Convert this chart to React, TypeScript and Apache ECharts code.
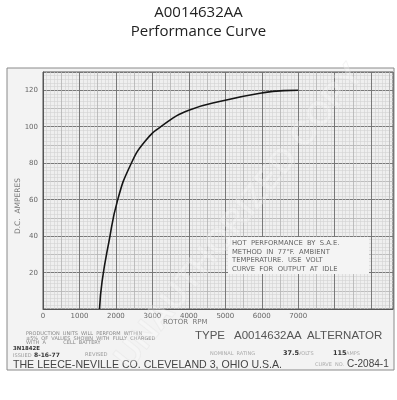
import React, { useEffect, useRef } from "react";
import * as echarts from "echarts";

const rpm = [1550, 1620, 1800, 2050, 2400, 2800, 3300, 4000, 5000, 6000, 6600, 7000];
const amps = [0, 15, 36, 60, 79, 92, 101, 109, 114.5, 118.5, 119.8, 120];
const xTickLabels = ["0", "1000", "2000", "3000", "4000", "5000", "6000", "7000"];
const yTickLabels = ["20", "40", "60", "80", "100", "120"];
const noteLines = [
  "HOT  PERFORMANCE  BY  S.A.E.",
  "METHOD  IN  77°F.  AMBIENT",
  "TEMPERATURE.  USE  VOLT",
  "CURVE  FOR  OUTPUT  AT  IDLE",
];

const FONT = "DejaVu Sans";

export default function App() {
  const ref = useRef<HTMLDivElement>(null);
  useEffect(() => {
    document.body.style.margin = "0";
    const chart = echarts.init(ref.current!, null, { renderer: "svg" });
    const hiddenX = (interval: number, color: string) => ({
      type: "value", min: 0, max: 9600, interval, position: "bottom",
      axisLine: { show: false }, axisTick: { show: false }, axisLabel: { show: false },
      splitLine: { show: true, lineStyle: { color, width: 0.6 } },
    });
    const hiddenY = (interval: number, color: string) => ({
      type: "value", min: 0, max: 130, interval, position: "left",
      axisLine: { show: false }, axisTick: { show: false }, axisLabel: { show: false },
      splitLine: { show: true, lineStyle: { color, width: 0.6 } },
    });
    const t = (text: string, x: number, y: number, size: number, fill: string, extra: any = {}) => ({
      type: "text", x, y, silent: true, z: 5,
      style: { text, fontSize: size, fill, fontFamily: FONT, textVerticalAlign: "middle", ...extra },
    });
    const elements: any[] = [
      { type: "rect", shape: { x: 7, y: 68, width: 387, height: 302 }, z: -10, silent: true,
        style: { fill: "#f3f3f3", stroke: "#8a8a8a", lineWidth: 1 } },
      { type: "text", x: 198.5, y: 11, silent: true,
        style: { text: "A0014632AA", fontSize: 15, fill: "#222", fontFamily: "Open Sans", textAlign: "center", textVerticalAlign: "middle" } },
      { type: "text", x: 198.5, y: 30, silent: true,
        style: { text: "Performance Curve", fontSize: 15, fill: "#222", fontFamily: "Open Sans", textAlign: "center", textVerticalAlign: "middle" } },
      { type: "text", x: 17, y: 206, rotation: Math.PI / 2, silent: true, z: 5,
        style: { text: "D.C.  AMPERES", fontSize: 7.5, fill: "#777", fontFamily: FONT, textAlign: "center", textVerticalAlign: "middle" } },
      t("ROTOR  RPM", 163, 322, 7, "#777"),
      { type: "rect", shape: { x: 228, y: 237, width: 141, height: 37 }, z: 4, silent: true,
        style: { fill: "#f4f4f4" } },
      ...noteLines.map((l, i) => t(l, 232, 243 + i * 8.6, 6.8, "#666")),
      t("PRODUCTION  UNITS  WILL  PERFORM  WITHIN", 26, 332.5, 5, "#888"),
      t("±5%  OF  VALUES  SHOWN  WITH  FULLY  CHARGED", 26, 337.5, 5, "#888"),
      t("WITH  A           CELL  BATTERY", 26, 342.3, 5, "#888"),
      t("3N1842E", 13, 348.3, 5.4, "#333", { fontWeight: "bold" }),
      t("ISSUED", 13, 354.5, 5, "#999"),
      t("8-16-77", 34, 354.5, 6, "#333", { fontWeight: "bold" }),
      t("REVISED", 85, 354, 5.2, "#999"),
      t("TYPE   A0014632AA  ALTERNATOR", 195, 335, 11.5, "#555", { fontFamily: "Liberation Sans" }),
      t("NOMINAL  RATING", 210, 353, 5, "#aaa"),
      t("37.5", 283, 353, 6.5, "#333", { fontWeight: "bold" }),
      t("VOLTS", 298, 353, 5, "#aaa"),
      t("115", 333, 353, 6.5, "#333", { fontWeight: "bold" }),
      t("AMPS", 346, 353, 5, "#aaa"),
      t("THE LEECE-NEVILLE CO. CLEVELAND 3, OHIO U.S.A.", 13, 363.5, 10.6, "#444", { fontFamily: "Liberation Sans" }),
      t("CURVE  NO.", 315, 364, 5, "#aaa"),
      t("C-2084-1", 347, 363.5, 10, "#444", { fontFamily: "Liberation Sans" }),
      { type: "text", x: 238, y: 215, rotation: 0.9, silent: true, z: 20,
        style: { text: "UNAUTHORIZED COPY", fontSize: 34, fontWeight: "bold", fontFamily: "Liberation Sans",
          fill: "rgba(255,255,255,0.25)", stroke: "rgba(215,215,215,0.3)", lineWidth: 1,
          textAlign: "center", textVerticalAlign: "middle" } },
    ];
    chart.setOption({
      animation: false,
      grid: { left: 43, right: 4, top: 72, bottom: 91, show: true, borderColor: "#555", borderWidth: 1, backgroundColor: "#efefef" },
      xAxis: [
        hiddenX(100, "#d2d2d2"),
        hiddenX(500, "#a8a8a8"),
        {
          type: "value", min: 0, max: 9600, interval: 1000, position: "bottom",
          axisLine: { show: true, lineStyle: { color: "#555", width: 1 } },
          axisTick: { show: false },
          axisLabel: {
            show: true, margin: 3, fontSize: 7, color: "#666", fontFamily: FONT, showMaxLabel: false,
            formatter: (v: number) => (xTickLabels.includes(String(v)) ? String(v) : ""),
          },
          splitLine: { show: true, lineStyle: { color: "#707070", width: 0.9 } },
        },
      ],
      yAxis: [
        hiddenY(2, "#d2d2d2"),
        hiddenY(10, "#a8a8a8"),
        {
          type: "value", min: 0, max: 130, interval: 20, position: "left",
          axisLine: { show: true, lineStyle: { color: "#555", width: 1 } },
          axisTick: { show: false },
          axisLabel: {
            show: true, margin: 5, fontSize: 7, color: "#666", fontFamily: FONT, showMaxLabel: false,
            formatter: (v: number) => (yTickLabels.includes(String(v)) ? String(v) : ""),
          },
          splitLine: { show: true, lineStyle: { color: "#707070", width: 0.9 } },
        },
      ],
      series: [
        {
          type: "line", xAxisIndex: 2, yAxisIndex: 2, smooth: 0.5, showSymbol: false,
          data: rpm.map((r, i) => [r, amps[i]]),
          lineStyle: { color: "#151515", width: 1.6 },
        },
      ],
      graphic: { elements },
    });
    return () => chart.dispose();
  }, []);
  return <div ref={ref} style={{ position: "fixed", left: 0, top: 0, width: 397, height: 400 }} />;
}
